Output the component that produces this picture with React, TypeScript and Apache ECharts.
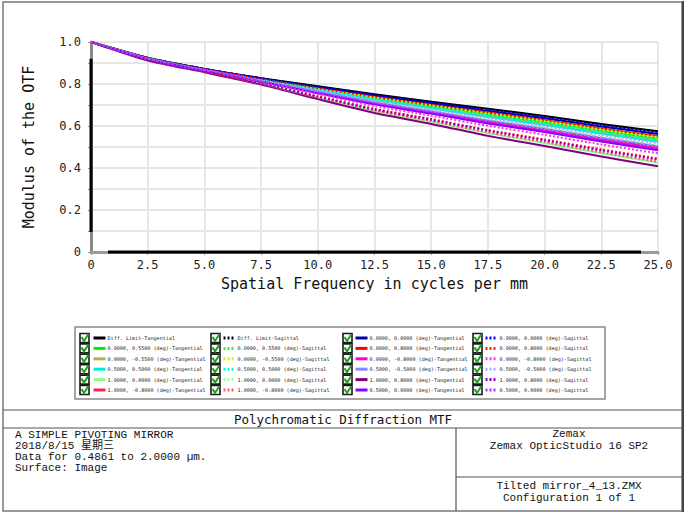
import React, { useEffect, useRef } from "react";
import * as echarts from "echarts";

// Spatial frequency sample points (cycles/mm)
const freqs = [0, 2.5, 5, 7.5, 10, 12.5, 15, 17.5, 20, 22.5, 25];

// MTF values
const dlTan = [1, 0.925, 0.872, 0.828, 0.789, 0.751, 0.716, 0.682, 0.648, 0.61, 0.575];
const dlSag = [1, 0.925, 0.872, 0.827, 0.788, 0.749, 0.714, 0.679, 0.645, 0.607, 0.572];
const f0055Tan = [1, 0.922, 0.869, 0.821, 0.776, 0.732, 0.694, 0.655, 0.618, 0.577, 0.54];
const f0055Sag = [1, 0.923, 0.869, 0.823, 0.779, 0.737, 0.699, 0.661, 0.625, 0.585, 0.548];
const f00m55Tan = [1, 0.921, 0.868, 0.82, 0.773, 0.727, 0.687, 0.647, 0.609, 0.568, 0.53];
const f00m55Sag = [1, 0.923, 0.869, 0.822, 0.778, 0.735, 0.697, 0.659, 0.622, 0.582, 0.545];
const f0505Tan = [1, 0.921, 0.867, 0.819, 0.771, 0.724, 0.684, 0.643, 0.605, 0.563, 0.525];
const f0505Sag = [1, 0.922, 0.868, 0.821, 0.774, 0.73, 0.691, 0.651, 0.614, 0.573, 0.535];
const f1000Tan = [1, 0.913, 0.858, 0.8, 0.734, 0.671, 0.621, 0.566, 0.519, 0.47, 0.425];
const f1000Sag = [1, 0.92, 0.866, 0.816, 0.765, 0.716, 0.675, 0.632, 0.592, 0.55, 0.51];
const f10m8Tan = [1, 0.919, 0.864, 0.813, 0.76, 0.708, 0.665, 0.62, 0.579, 0.536, 0.495];
const f10m8Sag = [1, 0.914, 0.858, 0.801, 0.736, 0.674, 0.624, 0.57, 0.524, 0.475, 0.43];
const f0000Tan = [1, 0.924, 0.871, 0.826, 0.784, 0.744, 0.708, 0.672, 0.637, 0.598, 0.562];
const f0000Sag = [1, 0.924, 0.871, 0.826, 0.786, 0.747, 0.711, 0.676, 0.641, 0.602, 0.567];
const f008Tan = [1, 0.923, 0.87, 0.824, 0.78, 0.739, 0.701, 0.664, 0.628, 0.588, 0.552];
const f008Sag = [1, 0.915, 0.86, 0.804, 0.741, 0.682, 0.633, 0.581, 0.536, 0.489, 0.445];
const f00m8Tan = [1, 0.918, 0.864, 0.812, 0.758, 0.706, 0.662, 0.616, 0.575, 0.531, 0.49];
const f00m8Sag = [1, 0.917, 0.862, 0.808, 0.751, 0.695, 0.649, 0.601, 0.558, 0.512, 0.47];
const f05m5Tan = [1, 0.92, 0.865, 0.815, 0.763, 0.714, 0.671, 0.628, 0.588, 0.545, 0.505];
const f05m5Sag = [1, 0.921, 0.867, 0.817, 0.768, 0.721, 0.68, 0.638, 0.599, 0.557, 0.518];
const f108Tan = [1, 0.912, 0.856, 0.797, 0.728, 0.662, 0.61, 0.553, 0.505, 0.455, 0.408];
const f108Sag = [1, 0.914, 0.859, 0.803, 0.74, 0.679, 0.63, 0.578, 0.532, 0.484, 0.44];
const f0500Tan = [1, 0.918, 0.863, 0.811, 0.756, 0.703, 0.659, 0.612, 0.571, 0.526, 0.485];
const f0500Sag = [1, 0.919, 0.865, 0.814, 0.762, 0.711, 0.668, 0.624, 0.584, 0.54, 0.5];

// Legend columns
const col1Names = [
  "Diff. Limit-Tangential",
  "0.0000, 0.5500 (deg)-Tangential",
  "0.0000, -0.5500 (deg)-Tangential",
  "0.5000, 0.5000 (deg)-Tangential",
  "1.0000, 0.0000 (deg)-Tangential",
  "1.0000, -0.8000 (deg)-Tangential",
];
const col2Names = [
  "Diff. Limit-Sagittal",
  "0.0000, 0.5500 (deg)-Sagittal",
  "0.0000, -0.5500 (deg)-Sagittal",
  "0.5000, 0.5000 (deg)-Sagittal",
  "1.0000, 0.0000 (deg)-Sagittal",
  "1.0000, -0.8000 (deg)-Sagittal",
];
const col3Names = [
  "0.0000, 0.0000 (deg)-Tangential",
  "0.0000, 0.8000 (deg)-Tangential",
  "0.0000, -0.8000 (deg)-Tangential",
  "0.5000, -0.5000 (deg)-Tangential",
  "1.0000, 0.8000 (deg)-Tangential",
  "0.5000, 0.0000 (deg)-Tangential",
];
const col4Names = [
  "0.0000, 0.0000 (deg)-Sagittal",
  "0.0000, 0.8000 (deg)-Sagittal",
  "0.0000, -0.8000 (deg)-Sagittal",
  "0.5000, -0.5000 (deg)-Sagittal",
  "1.0000, 0.8000 (deg)-Sagittal",
  "0.5000, 0.0000 (deg)-Sagittal",
];
const col1Values = [dlTan, f0055Tan, f00m55Tan, f0505Tan, f1000Tan, f10m8Tan];
const col2Values = [dlSag, f0055Sag, f00m55Sag, f0505Sag, f1000Sag, f10m8Sag];
const col3Values = [f0000Tan, f008Tan, f00m8Tan, f05m5Tan, f108Tan, f0500Tan];
const col4Values = [f0000Sag, f008Sag, f00m8Sag, f05m5Sag, f108Sag, f0500Sag];
const col1Colors = ["#000000", "#00ee00", "#b5b53a", "#00f0d0", "#88ff88", "#ff2050"];
const col2Colors = ["#000000", "#22ff22", "#e6e600", "#00ffcc", "#a0ffa0", "#ff5577"];
const col3Colors = ["#0000a0", "#ff0000", "#ff00dd", "#8888ff", "#800080", "#8800ff"];
const col4Colors = ["#0000ff", "#ff1a1a", "#ff33ee", "#aaaaff", "#9900bb", "#aa33ff"];

const yTicks = [0, 0.2, 0.4, 0.6, 0.8, 1.0];
const xTicks = [0, 2.5, 5, 7.5, 10, 12.5, 15, 17.5, 20, 22.5, 25];

const MONO = "'DejaVu Sans Mono', monospace";
const BLOCK_FONT = "'Liberation Mono', 'DejaVu Sans Mono', 'Noto Sans CJK SC', monospace";

export default function App() {
  const ref = useRef<HTMLDivElement>(null);
  useEffect(() => {
    if (!ref.current) return;
    const chart = echarts.init(ref.current, undefined, { renderer: "svg" });

    const makeSeries = (names: string[], vals: number[][], colors: string[], dotted: boolean) =>
      names.map((name, i) => ({
        name,
        type: "line",
        symbol: "none",
        smooth: 0.2,
        z: dotted ? 3 : 2,
        data: freqs.map((x, k) => [x, vals[i][k]]),
        lineStyle: { color: colors[i], width: 2, type: dotted ? [2, 2] : "solid" },
        itemStyle: { color: colors[i] },
      }));

    const series: any[] = [
      ...makeSeries(col1Names, col1Values, col1Colors, false),
      ...makeSeries(col3Names, col3Values, col3Colors, false),
      ...makeSeries(col2Names, col2Values, col2Colors, true),
      ...makeSeries(col4Names, col4Values, col4Colors, true),
      {
        name: "_yaxis",
        type: "line",
        symbol: "none",
        clip: false,
        silent: true,
        z: 5,
        data: [[0, 0.095], [0, 0.92]],
        lineStyle: { color: "#000", width: 3 },
      },
      {
        name: "_xaxis",
        type: "line",
        symbol: "none",
        clip: false,
        silent: true,
        z: 5,
        data: [[0.75, 0], [24.25, 0]],
        lineStyle: { color: "#000", width: 3 },
      },
    ];

    const colLefts = [92, 222, 354, 484];
    const cols = [col1Names, col2Names, col3Names, col4Names];
    const legendTop = 334;
    const rowStep = 10.4;
    const legends = cols.map((names, c) => ({
      data: names,
      orient: "vertical",
      left: colLefts[c],
      top: legendTop,
      padding: 0,
      itemGap: rowStep - 8,
      itemWidth: 12,
      itemHeight: 8,
      selectedMode: false,
      itemStyle: { opacity: 0 },
      lineStyle: { width: 3 },
      textStyle: { fontSize: 5.1, fontFamily: MONO, color: "#222", lineHeight: 8, padding: [0, 0, 0, -3] },
    }));

    const graphics: any[] = [];
    // outer frame
    graphics.push({
      type: "rect",
      shape: { x: 3, y: 2, width: 679, height: 509 },
      style: { fill: "none", stroke: "#777", lineWidth: 1.5 },
      silent: true,
    });
    graphics.push({
      type: "line",
      shape: { x1: 683, y1: 1, x2: 683, y2: 512 },
      style: { stroke: "#444", lineWidth: 2 },
      silent: true,
    });
    // legend box
    graphics.push({
      type: "rect",
      shape: { x: 75, y: 327, width: 530, height: 72 },
      style: { fill: "none", stroke: "#888", lineWidth: 1.5 },
      silent: true,
    });
    // checkboxes
    const boxLefts = [80, 211, 343, 473];
    for (let c = 0; c < 4; c++) {
      for (let r = 0; r < 6; r++) {
        const bx = boxLefts[c];
        const by = legendTop + r * rowStep - 0.5;
        graphics.push({
          type: "rect",
          shape: { x: bx, y: by, width: 9, height: 9 },
          style: { fill: "#ffffff", stroke: "#1a1a1a", lineWidth: 1.6 },
          silent: true,
        });
        graphics.push({
          type: "polyline",
          shape: { points: [[bx + 1.5, by + 3.5], [bx + 4, by + 7.5], [bx + 8.5, by + 0.5]] },
          style: { stroke: "#1fa01f", lineWidth: 2, fill: "none" },
          silent: true,
        });
      }
    }
    // title block lines
    const ln = (x1: number, y1: number, x2: number, y2: number) => ({
      type: "line",
      shape: { x1, y1, x2, y2 },
      style: { stroke: "#555", lineWidth: 1.2 },
      silent: true,
    });
    graphics.push(ln(3, 410, 683, 410));
    graphics.push(ln(3, 428, 683, 428));
    graphics.push(ln(456, 428, 456, 511));
    graphics.push(ln(456, 477, 683, 477));
    const txt = (text: string, x: number, y: number, align: string, size: number, font: string) => ({
      type: "text",
      silent: true,
      style: {
        text,
        x,
        y,
        align,
        verticalAlign: "middle",
        fontSize: size,
        fontFamily: font,
        fill: "#111",
      },
    });
    graphics.push(txt("Polychromatic Diffraction MTF", 343, 419.5, "center", 12.5, MONO));
    graphics.push(txt("A SIMPLE PIVOTING MIRROR", 15, 435, "left", 11, BLOCK_FONT));
    graphics.push(txt("2018/8/15 星期三", 15, 446, "left", 11, BLOCK_FONT));
    graphics.push(txt("Data for 0.4861 to 2.0000 µm.", 15, 457, "left", 11, BLOCK_FONT));
    graphics.push(txt("Surface: Image", 15, 468, "left", 11, BLOCK_FONT));
    graphics.push(txt("Zemax", 569, 434, "center", 11, BLOCK_FONT));
    graphics.push(txt("Zemax OpticStudio 16 SP2", 569, 445.5, "center", 11, BLOCK_FONT));
    graphics.push(txt("Tilted mirror_4_13.ZMX", 569, 486, "center", 11, BLOCK_FONT));
    graphics.push(txt("Configuration 1 of 1", 569, 497.5, "center", 11, BLOCK_FONT));

    chart.setOption({
      animation: false,
      backgroundColor: "#ffffff",
      grid: { left: 91, right: 27, top: 42, bottom: 263, containLabel: false },
      legend: legends,
      xAxis: {
        type: "value",
        min: xTicks[0],
        max: xTicks[xTicks.length - 1],
        interval: 2.5,
        name: "Spatial Frequency in cycles per mm",
        nameLocation: "middle",
        nameGap: 24,
        nameTextStyle: { fontSize: 15, fontFamily: MONO, color: "#111" },
        axisLine: { show: true, lineStyle: { color: "#999", width: 3 } },
        axisTick: { show: true, length: 3, lineStyle: { color: "#999" } },
        axisLabel: {
          fontSize: 12,
          fontFamily: MONO,
          color: "#222",
          margin: 7,
          formatter: (v: number) => (v === 0 ? "0" : v.toFixed(1)),
        },
        splitLine: { show: true, lineStyle: { color: "#e6e6e6", width: 2 } },
      },
      yAxis: {
        type: "value",
        min: yTicks[0],
        max: yTicks[yTicks.length - 1],
        interval: 0.1,
        name: "Modulus of the OTF",
        nameLocation: "middle",
        nameGap: 55,
        nameRotate: 90,
        nameTextStyle: { fontSize: 15, fontFamily: MONO, color: "#111" },
        axisLine: { show: true, lineStyle: { color: "#888", width: 3 } },
        axisTick: { show: true, length: 3, lineStyle: { color: "#999" } },
        axisLabel: {
          fontSize: 12,
          fontFamily: MONO,
          color: "#222",
          margin: 10,
          formatter: (v: number) => {
            const t = Math.round(v * 10);
            if (t % 2 === 1) return "";
            return t === 0 ? "0" : v.toFixed(1);
          },
        },
        splitLine: { show: true, lineStyle: { color: "#e6e6e6", width: 2 } },
      },
      series,
      graphic: graphics,
    });
    return () => chart.dispose();
  }, []);
  return (
    <div
      ref={ref}
      style={{ position: "fixed", left: 0, top: 0, width: 685, height: 515, background: "#fff" }}
    />
  );
}
